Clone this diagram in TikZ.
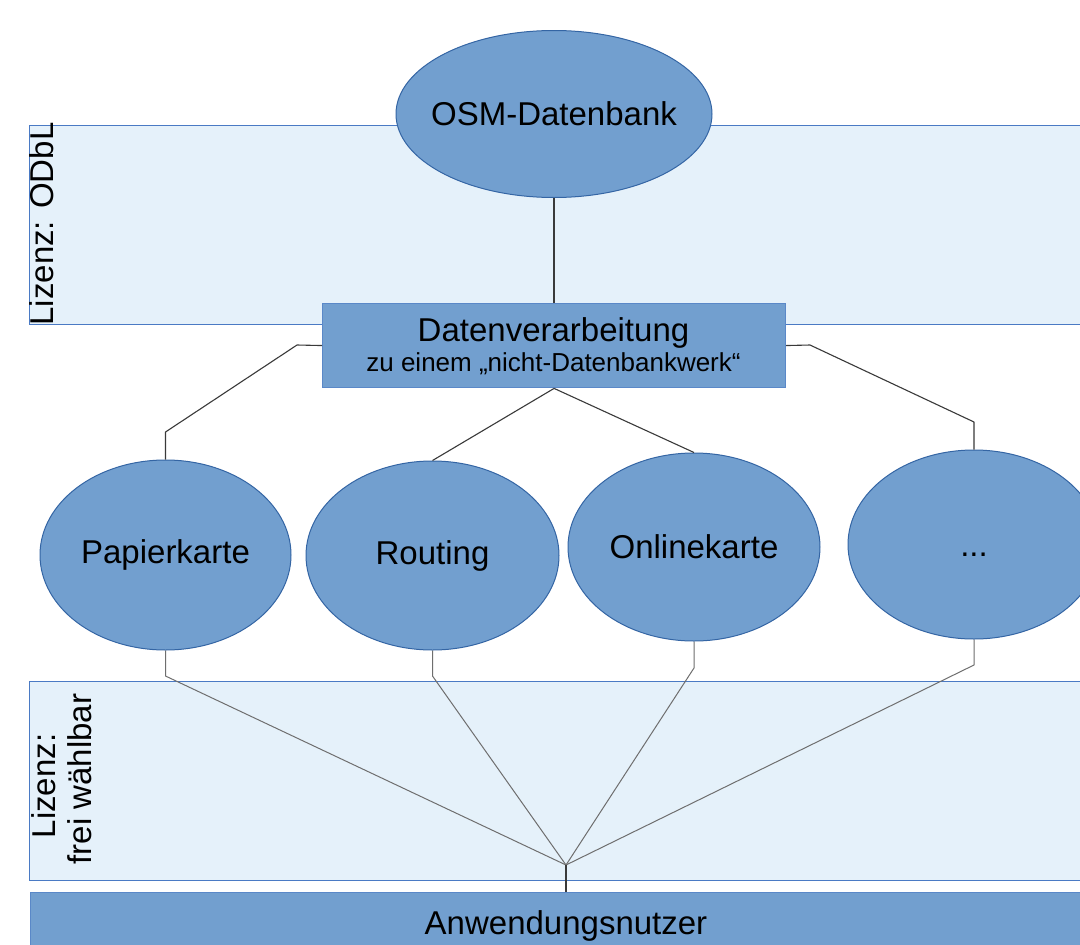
\documentclass[tikz,border=0pt]{standalone}
\usepackage{fontspec}
\setmainfont{Liberation Sans}
\usetikzlibrary{shapes.geometric}
\definecolor{ellfill}{HTML}{729FCF}
\definecolor{elldraw}{HTML}{3465A4}
\definecolor{bandfill}{HTML}{E5F1FA}
\definecolor{banddraw}{HTML}{4A7AC4}
\definecolor{boxdraw}{HTML}{5A88C8}
\definecolor{linetop}{HTML}{3A3A3A}
\definecolor{linelow}{HTML}{6E6E6E}
\tikzset{
  x=1pt, y=-1pt,
  bigtxt/.style={font=\fontsize{33}{38}\selectfont, text=black, inner sep=0pt},
  smalltxt/.style={font=\fontsize{26}{30}\selectfont, text=black, inner sep=0pt},
  band/.style={rectangle, fill=bandfill, draw=banddraw, line width=1.2pt, inner sep=0pt, anchor=north west},
  oval/.style={ellipse, fill=ellfill, draw=elldraw, line width=1pt, inner sep=0pt,
     minimum width=252pt, minimum height=189pt},
  bluebox/.style={rectangle, fill=ellfill, draw=boxdraw, line width=1.2pt, inner sep=0pt},
  toplink/.style={draw=linetop, line width=1.1pt, line join=round},
  lowlink/.style={draw=linelow, line width=1pt, line join=round},
}
\begin{document}
\begin{tikzpicture}
\useasboundingbox (0,0) rectangle (1080,945);
\clip (0,0) rectangle (1080,945);
\fill[white] (0,0) rectangle (1080,945);

% bands
\node[band, minimum width=1080pt, minimum height=199.5pt] (bandA) at (29,124.5) {};
\node[band, minimum width=1080pt, minimum height=199.5pt] (bandB) at (29,680.5) {};

% band labels
\node[bigtxt, rotate=90, anchor=base] (licA) at (53,224) {Lizenz: ODbL};
\node[bigtxt, rotate=90, anchor=base] (licB1) at (55,786) {Lizenz:};
\node[bigtxt, rotate=90, anchor=base] (licB2) at (91,779) {frei wählbar};

% bottom box
\node[bluebox, anchor=north west, minimum width=1072pt, minimum height=62pt] (user) at (30,892)
  {};
\node[bigtxt, anchor=base] (usertxt) at (566,934) {Anwendungsnutzer};

% nodes
\node[oval, minimum width=316pt, minimum height=167pt,
      label={[bigtxt]center:OSM-Datenbank}] (osm) at (554,114) {};
\node[bluebox, anchor=north west, minimum width=463pt, minimum height=84.5pt] (proc) at (322,302.7) {};
\node[bigtxt, anchor=base] (procA) at (553.5,341.5) {Datenverarbeitung};
\node[smalltxt, anchor=base] (procB) at (553.5,371) {zu einem „nicht-Datenbankwerk“};

\node[oval, minimum width=251pt, minimum height=190pt,
      label={[bigtxt]center:Papierkarte}] (pap) at (165.5,555) {};
\node[oval, minimum width=253pt, minimum height=189pt,
      label={[bigtxt]center:Routing}] (rout) at (432.5,555.5) {};
\node[oval, minimum width=252pt, minimum height=188pt,
      label={[bigtxt]center:Onlinekarte}] (onl) at (694,547) {};
\node[oval, minimum width=252pt, minimum height=189pt,
      label={[bigtxt, text height=30pt, text depth=7pt]center:...}] (more) at (974,544.5) {};

% waypoints
\coordinate (pl1) at (297,345);
\coordinate (pl2) at (165.5,432);
\coordinate (pr1) at (810,345);
\coordinate (pr2) at (974,422);
\coordinate (dpap) at (165.5,676);
\coordinate (drout) at (432.5,676);
\coordinate (donl) at (694,668);
\coordinate (dmore) at (974,665);
\coordinate (hub) at (566,865);

% upper connectors
\draw[toplink] (osm.south) -- (proc.north -| osm.south);
\draw[toplink] (proc.west) -- (pl1) -- (pl2) -- (pap.north);
\draw[toplink] (proc.east) -- (pr1) -- (pr2) -- (more.north);
\draw[toplink] (proc.south) -- (rout.north);
\draw[toplink] (proc.south) -- (onl.north);

% lower connectors
\draw[lowlink] (pap.south) -- (dpap) -- (hub);
\draw[lowlink] (rout.south) -- (drout) -- (hub);
\draw[lowlink] (onl.south) -- (donl) -- (hub);
\draw[lowlink] (more.south) -- (dmore) -- (hub);
\draw[toplink] (hub) -- (user.north -| hub);
\end{tikzpicture}
\end{document}
